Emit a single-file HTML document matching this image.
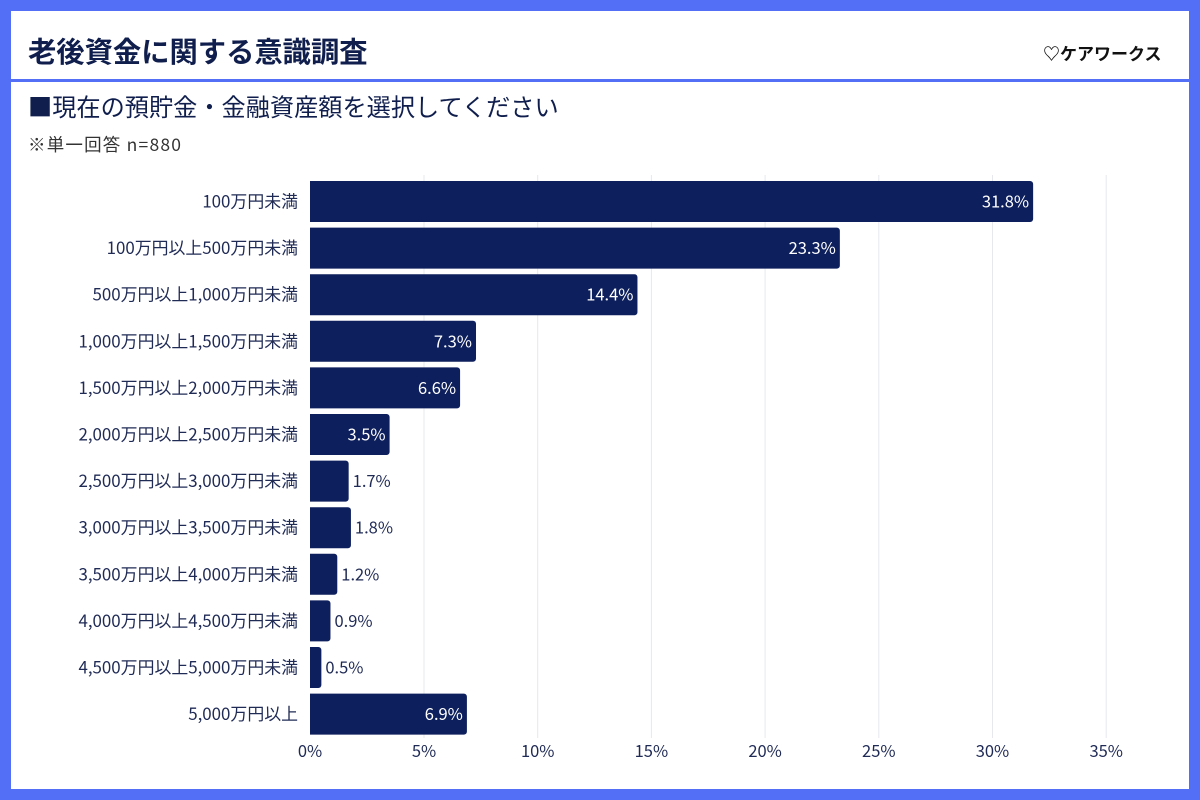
<!DOCTYPE html>
<html><head><meta charset="utf-8"><style>
html,body{margin:0;padding:0;width:1200px;height:800px;overflow:hidden;background:#536ff5;}
.card{position:absolute;left:11px;top:11px;width:1178px;height:778px;background:#fff;}
svg{position:absolute;left:0;top:0;}
text{font-family:"Noto Sans CJK JP",sans-serif;}
</style></head><body>
<div class="card"></div>
<svg width="1200" height="800" viewBox="0 0 1200 800">
<rect x="11" y="79" width="1178" height="3" fill="#536ff5"/>
<text x="28" y="62" font-size="28.3" font-weight="bold" fill="#0f1e4d">老後資金に関する意識調査</text>
<text x="1043" y="60" font-size="17" font-weight="bold" fill="#111">♡ケアワークス</text>
<text x="28" y="116" font-size="24.2" fill="#0f1e4d">■現在の預貯金・金融資産額を選択してください</text>
<text x="28" y="151" font-size="17.5" fill="#333" textLength="153" lengthAdjust="spacing">※単一回答 n=880</text>
<g stroke="#e6e8ee" stroke-width="1">
<line x1="424" y1="175" x2="424" y2="738"/><line x1="537.7" y1="175" x2="537.7" y2="738"/>
<line x1="651.4" y1="175" x2="651.4" y2="738"/><line x1="765.1" y1="175" x2="765.1" y2="738"/>
<line x1="878.8" y1="175" x2="878.8" y2="738"/><line x1="992.5" y1="175" x2="992.5" y2="738"/>
<line x1="1106.2" y1="175" x2="1106.2" y2="738"/>
</g>
<g font-size="16.5" fill="#1f2a55" text-anchor="middle">
<text x="310" y="757">0%</text><text x="424" y="757">5%</text><text x="537.7" y="757">10%</text>
<text x="651.4" y="757">15%</text><text x="765.1" y="757">20%</text><text x="878.8" y="757">25%</text>
<text x="992.5" y="757">30%</text><text x="1106.2" y="757">35%</text>
</g>
<g id="bars"></g>
</svg>
<script>
var d=[["100万円未満",31.8],["100万円以上500万円未満",23.3],["500万円以上1,000万円未満",14.4],["1,000万円以上1,500万円未満",7.3],["1,500万円以上2,000万円未満",6.6],["2,000万円以上2,500万円未満",3.5],["2,500万円以上3,000万円未満",1.7],["3,000万円以上3,500万円未満",1.8],["3,500万円以上4,000万円未満",1.2],["4,000万円以上4,500万円未満",0.9],["4,500万円以上5,000万円未満",0.5],["5,000万円以上",6.9]];
var g=document.getElementById('bars'),s='';
d.forEach(function(r,i){var c=201.5+i*46.6,w=r[1]*22.74,t=c-20.5;
s+='<path d="M310 '+t+'h'+(w-3)+'a3 3 0 0 1 3 3v35a3 3 0 0 1 -3 3h-'+(w-3)+'z" fill="#0d1f5c"/>';
s+='<text x="298" y="'+(c+6)+'" font-size="16.9" fill="#1f2a55" text-anchor="end">'+r[0]+'</text>';
var v=r[1].toFixed(1)+'%';
if(r[1]>=3)s+='<text x="'+(310+w-4)+'" y="'+(c+6)+'" font-size="16.5" fill="#fff" text-anchor="end">'+v+'</text>';
else s+='<text x="'+(310+w+4)+'" y="'+(c+6)+'" font-size="16.5" fill="#1f2a55">'+v+'</text>';});
g.innerHTML=s;
</script>
</body></html>
